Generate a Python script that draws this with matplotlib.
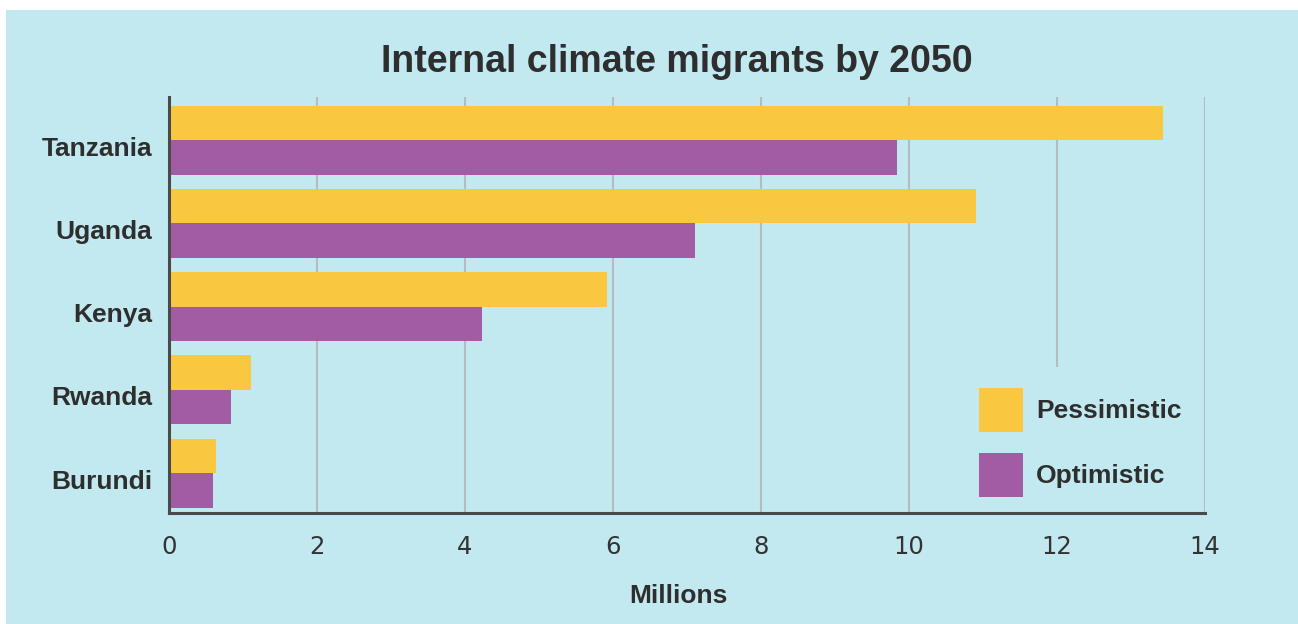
import matplotlib
matplotlib.use("Agg")
import matplotlib.pyplot as plt
import matplotlib.transforms as mtransforms
import numpy as np
from matplotlib.patches import Rectangle, Patch

countries = ["Tanzania", "Uganda", "Kenya", "Rwanda", "Burundi"]
pessimistic = [13.43, 10.9, 5.92, 1.11, 0.64]
optimistic = [9.84, 7.11, 4.23, 0.84, 0.59]
xticks = [0, 2, 4, 6, 8, 10, 12, 14]
title = "Internal climate migrants by 2050"
xlabel = "Millions"
series_labels = ["Pessimistic", "Optimistic"]

BG = "#c1e9ef"
YEL = "#f9c740"
PUR = "#a15ca3"
TXT = "#2e2e2e"
GRID = "#b3bcc0"
SPINE = "#4a4a4a"

W, H = 1298, 624
fig = plt.figure(figsize=(W / 100, H / 100), dpi=100, facecolor="white")
fig.patches.append(Rectangle((6 / W, 0), 1 - 6 / W, 1 - 10 / H, transform=fig.transFigure,
                             facecolor=BG, edgecolor="none", zorder=-10))

bold = dict(family=["Liberation Sans", "DejaVu Sans"], weight="bold", color=TXT)

ax = fig.add_axes([169 / W, 1 - 513 / H, (1205 - 169) / W, (513 - 97) / H])
ax.set_facecolor("none")

y = np.arange(len(countries))
h = 0.414
ax.barh(y - h / 2, pessimistic, height=h, color=YEL, zorder=1, label=series_labels[0])
ax.barh(y + h / 2, optimistic, height=h, color=PUR, zorder=1, label=series_labels[1])

ax.set_xlim(0, 14)
ax.set_ylim(4.48, -0.52)
ax.set_xticks(xticks)
ax.set_xticklabels([str(t) for t in xticks], fontsize=17.5, color="#333333",
                   family=["DejaVu Sans"])
ax.set_yticks(y)
ax.set_yticklabels(countries, fontsize=19, **bold)
ax.tick_params(axis="x", length=0, pad=16)
ax.tick_params(axis="y", length=0, pad=12)
offset = mtransforms.ScaledTranslation(0, -6 / 100, fig.dpi_scale_trans)
for lab in ax.get_yticklabels():
    lab.set_transform(lab.get_transform() + offset)

ax.set_axisbelow(True)
ax.grid(axis="x", color=GRID, linewidth=1.5, zorder=0.5)
ax.grid(axis="y", visible=False)
for s in ["top", "right"]:
    ax.spines[s].set_visible(False)
for s in ["left", "bottom"]:
    ax.spines[s].set_color(SPINE)
    ax.spines[s].set_linewidth(2.2)
    ax.spines[s].set_zorder(3)

handles = [Patch(facecolor=YEL, edgecolor="none"), Patch(facecolor=PUR, edgecolor="none")]
fs_px = 19 * 100 / 72
bp = 0.8
leg = ax.legend(handles, series_labels, loc="upper left",
                bbox_to_anchor=((979 - bp * fs_px) / W, 1 - (388 - bp * fs_px) / H),
                bbox_transform=fig.transFigure,
                prop=dict(family=["Liberation Sans", "DejaVu Sans"], weight="bold", size=19),
                handlelength=1.67, handleheight=2.2, handletextpad=0.5,
                labelspacing=0.78, borderpad=bp, borderaxespad=0,
                frameon=True, facecolor=BG, edgecolor="none", framealpha=1, fancybox=False)
for t in leg.get_texts():
    t.set_color(TXT)
leg.set_zorder(2)

fig.text(677 / W, 1 - 62 / H, title, ha="center", va="center", fontsize=27, **bold)
fig.text(678 / W, 1 - 596 / H, xlabel, ha="center", va="center", fontsize=19, **bold)

fig.savefig("out.png", dpi=100, facecolor="white")
